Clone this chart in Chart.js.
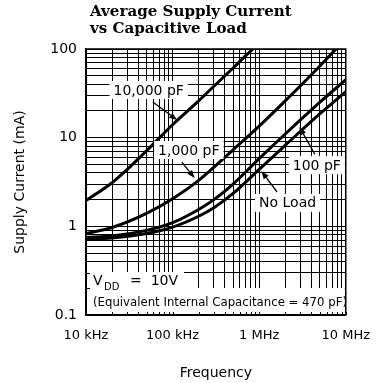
<!DOCTYPE html>
<html>
<head>
<meta charset="utf-8">
<script src="https://cdn.jsdelivr.net/npm/chart.js@4"></script>
<style>
html, body { margin: 0; padding: 0; background: #fff; }
</style>
</head>
<body>
<canvas id="myChart" width="383" height="383"></canvas>
<script>
// axis decades and labels
const xDecades = [1e4, 1e5, 1e6, 1e7];
const xDecadeLabels = ['10 kHz', '100 kHz', '1 MHz', '10 MHz'];
const yDecades = [0.1, 1, 10, 100];
const yDecadeLabels = ['0.1', '1', '10', '100'];

// curves (Hz, mA)
const freqNoLoad = [1e4, 2e4, 5e4, 1e5, 2e5, 3e5, 5e5, 1e6, 2e6, 5e6, 1e7];
const currentNoLoad = [0.72, 0.74, 0.83, 0.98, 1.3, 1.62, 2.35, 4.4, 8.2, 18.5, 33];
const freq100pF = [1e4, 2e4, 5e4, 1e5, 2e5, 3e5, 5e5, 1e6, 2e6, 5e6, 1e7];
const current100pF = [0.75, 0.78, 0.9, 1.1, 1.55, 2.0, 3.0, 5.8, 11, 25, 45];
const freq1000pF = [1e4, 2e4, 5e4, 1e5, 2e5, 5e5, 1e6, 2e6, 5e6, 7.7e6];
const current1000pF = [0.83, 0.97, 1.4, 2.05, 3.3, 7.3, 13.5, 26, 64, 100];
const freq10000pF = [1e4, 2e4, 3e4, 5e4, 7e4, 1e5, 2e5, 3e5, 5e5, 7e5, 8.5e5];
const current10000pF = [1.95, 3.1, 4.4, 7.1, 9.9, 14, 26, 38, 61, 84, 100];

// curve labels: text, centre, arrow tail, arrow tip (data coords)
const curveLabels = ['10,000 pF', '1,000 pF', '100 pF', 'No Load'];
const labelAt = [[53e3, 34.5], [154e3, 7.26], [4.63e6, 4.9], [2.13e6, 1.84]];
const arrowFrom = [[59e3, 25.2], [128e3, 5.3], [4.4e6, 6.5], [1.61e6, 2.44]];
const arrowTo = [[113e3, 15.8], [180e3, 3.5], [2.91e6, 13.2], [1.06e6, 4.2]];

function pts(xs, ys) {
    return xs.map((v, i) => ({ x: v, y: ys[i] }));
}

function minorTicks(decades) {
    const out = [];
    for (let i = 0; i < decades.length - 1; i++) {
        for (let m = 1; m < 10; m++) out.push(decades[i] * m);
    }
    out.push(decades[decades.length - 1]);
    return out;
}

function decadeLabel(value, decades, labels) {
    const i = decades.findIndex(d => Math.abs(d - value) / d < 1e-6);
    return i >= 0 ? labels[i] : '';
}

function fitSize(ctx, text, weight, family, width) {
    ctx.font = weight + ' 20px ' + family;
    return 20 * width / ctx.measureText(text).width;
}

function arrow(ctx, x1, y1, x2, y2) {
    const ang = Math.atan2(y2 - y1, x2 - x1);
    const len = 8, half = 3;
    const bx = x2 - len * Math.cos(ang), by = y2 - len * Math.sin(ang);
    ctx.beginPath();
    ctx.moveTo(x1, y1);
    ctx.lineTo(bx, by);
    ctx.stroke();
    ctx.beginPath();
    ctx.moveTo(x2, y2);
    ctx.lineTo(bx + half * Math.sin(ang), by - half * Math.cos(ang));
    ctx.lineTo(bx - half * Math.sin(ang), by + half * Math.cos(ang));
    ctx.closePath();
    ctx.fill();
}

const annotate = {
    id: 'annotate',
    afterDraw(chart) {
        const { ctx, chartArea: a, scales: { x, y } } = chart;
        ctx.save();
        ctx.fillStyle = '#000';
        ctx.strokeStyle = '#000';

        // title
        const serif = '"DejaVu Serif"';
        const ts = fitSize(ctx, 'Average Supply Current', 'bold', serif, 202);
        ctx.font = 'bold ' + ts + 'px ' + serif;
        ctx.textAlign = 'left';
        ctx.textBaseline = 'alphabetic';
        ctx.fillText('Average Supply Current', 90, 16);
        ctx.fillText('vs Capacitive Load', 90, 33);

        // white boxes at the bottom of the plot
        ctx.fillStyle = '#fff';
        ctx.fillRect(a.left + 1, a.bottom - 27, a.right - a.left - 2, 26);
        ctx.fillRect(a.left + 1, a.bottom - 43, 97, 17);
        ctx.fillStyle = '#000';

        // small ticks inside the boxes
        ctx.lineWidth = 1;
        minorTicks(xDecades).forEach(v => {
            const px = Math.round(x.getPixelForValue(v)) + 0.5;
            ctx.beginPath();
            ctx.moveTo(px, a.bottom);
            ctx.lineTo(px, a.bottom - 3);
            ctx.stroke();
        });
        minorTicks(yDecades).forEach(v => {
            const py = Math.round(y.getPixelForValue(v)) + 0.5;
            if (py < a.bottom - 43) return;
            ctx.beginPath();
            ctx.moveTo(a.left, py);
            ctx.lineTo(a.left + 4, py);
            ctx.stroke();
        });

        // V_DD and capacitance note
        const sans = '"DejaVu Sans"';
        ctx.font = '14px ' + sans;
        ctx.fillText('V', 93, 285);
        ctx.font = '10px ' + sans;
        ctx.fillText('DD', 104, 290);
        ctx.font = '14px ' + sans;
        ctx.fillText('=  10V', 130, 285);
        const note = '(Equivalent Internal Capacitance = 470 pF)';
        const ns = fitSize(ctx, note, 'normal', sans, 254);
        ctx.font = ns + 'px ' + sans;
        ctx.fillText(note, 93, 306);

        // curve labels and arrows
        ctx.font = '14px ' + sans;
        ctx.textAlign = 'center';
        ctx.textBaseline = 'middle';
        curveLabels.forEach((t, i) => {
            const cx = x.getPixelForValue(labelAt[i][0]);
            const cy = y.getPixelForValue(labelAt[i][1]);
            const w = ctx.measureText(t).width + 8;
            ctx.fillStyle = '#fff';
            ctx.fillRect(cx - w / 2, cy - 9, w, 18);
            ctx.fillStyle = '#000';
            ctx.fillText(t, cx, cy + 1);
            ctx.lineWidth = 1.3;
            arrow(ctx,
                x.getPixelForValue(arrowFrom[i][0]), y.getPixelForValue(arrowFrom[i][1]),
                x.getPixelForValue(arrowTo[i][0]), y.getPixelForValue(arrowTo[i][1]));
        });

        // frame again on top
        ctx.lineWidth = 1.5;
        ctx.strokeRect(a.left, a.top, a.right - a.left, a.bottom - a.top);
        ctx.restore();
    }
};

const curve = (xs, ys) => ({
    data: pts(xs, ys),
    borderColor: '#000',
    borderWidth: 3,
    pointRadius: 0,
    fill: false,
    cubicInterpolationMode: 'monotone'
});

const ctx = document.getElementById('myChart').getContext('2d');
new Chart(ctx, {
    type: 'line',
    data: {
        datasets: [
            curve(freqNoLoad, currentNoLoad),
            curve(freq100pF, current100pF),
            curve(freq1000pF, current1000pF),
            curve(freq10000pF, current10000pF)
        ]
    },
    options: {
        responsive: false,
        animation: false,
        devicePixelRatio: 1,
        layout: { padding: { left: 0, right: 29, top: 49, bottom: 0 } },
        plugins: { legend: { display: false }, tooltip: { enabled: false } },
        scales: {
            x: {
                type: 'logarithmic',
                min: 1e4,
                max: 1e7,
                afterBuildTicks: s => { s.ticks = minorTicks(xDecades).map(v => ({ value: v })); },
                afterFit: s => { s.height = 68; },
                grid: { color: '#000', lineWidth: 1, drawTicks: false },
                border: { color: '#000', width: 1.5 },
                ticks: {
                    autoSkip: false,
                    maxRotation: 0,
                    padding: 13,
                    color: '#000',
                    font: { family: 'DejaVu Sans', size: 13 },
                    callback: v => decadeLabel(v, xDecades, xDecadeLabels)
                },
                title: {
                    display: true,
                    text: 'Frequency',
                    color: '#000',
                    font: { family: 'DejaVu Sans', size: 14 },
                    padding: { top: 0, bottom: 1 }
                }
            },
            y: {
                type: 'logarithmic',
                min: 0.1,
                max: 100,
                afterBuildTicks: s => { s.ticks = minorTicks(yDecades).map(v => ({ value: v })); },
                afterFit: s => { s.width = 86; },
                grid: { color: '#000', lineWidth: 1, drawTicks: false },
                border: { color: '#000', width: 1.5 },
                ticks: {
                    autoSkip: false,
                    padding: 9,
                    color: '#000',
                    font: { family: 'DejaVu Sans', size: 14 },
                    callback: v => decadeLabel(v, yDecades, yDecadeLabels)
                },
                title: {
                    display: true,
                    text: 'Supply Current (mA)',
                    color: '#000',
                    font: { family: 'DejaVu Sans', size: 14 },
                    padding: { top: 12, bottom: 0 }
                }
            }
        }
    },
    plugins: [annotate]
});
</script>
</body>
</html>
